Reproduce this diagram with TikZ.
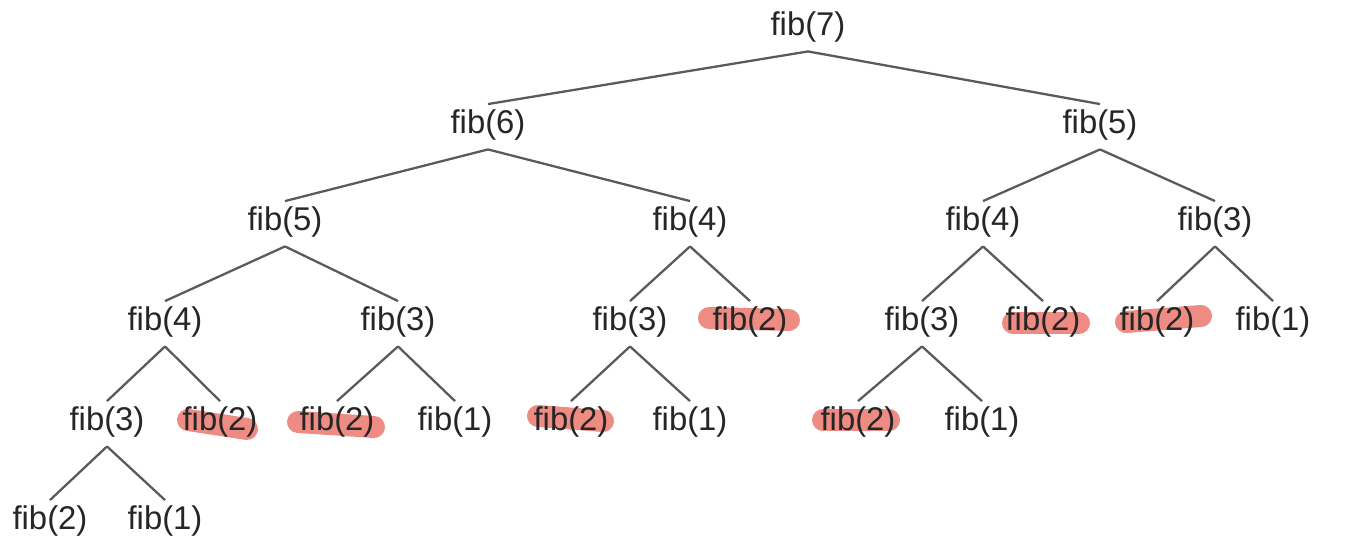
\documentclass[tikz,border=0pt]{standalone}
\usepackage{fontspec}
\setmainfont{Liberation Sans}
\usetikzlibrary{backgrounds}
\definecolor{marker}{RGB}{238,140,132}
\definecolor{edgegray}{RGB}{90,90,90}
\begin{document}
\begin{tikzpicture}[x=0.02cm,y=-0.02cm,
  every node/.style={font=\fontsize{18.7}{22}\selectfont,text=black!85,inner xsep=0pt,inner ysep=3pt},
  call/.style={line width=1.3pt,edgegray},
  hl/.style={line width=0.44cm,marker,line cap=round}]
\useasboundingbox (0,0) rectangle (1354,553);
% call tree of fib(7)
\node (f7) at (808,27) {fib(7)};
\node (f6) at (488,125) {fib(6)};
\node (f5r) at (1100,125) {fib(5)};
\node (f5) at (285,222) {fib(5)};
\node (f4m) at (690,222) {fib(4)};
\node (f4r) at (983,222) {fib(4)};
\node (f3r) at (1215,222) {fib(3)};
\node (f4) at (165,322) {fib(4)};
\node (f3a) at (398,322) {fib(3)};
\node (f3b) at (630,322) {fib(3)};
\node (f2a) at (750,322) {fib(2)};
\node (f3c) at (922,322) {fib(3)};
\node (f2b) at (1043,322) {fib(2)};
\node (f2c) at (1157,322) {fib(2)};
\node (f1a) at (1273,322) {fib(1)};
\node (f3) at (107,422) {fib(3)};
\node (f2d) at (220,422) {fib(2)};
\node (f2e) at (337,422) {fib(2)};
\node (f1b) at (455,422) {fib(1)};
\node (f2f) at (571,422) {fib(2)};
\node (f1c) at (690,422) {fib(1)};
\node (f2g) at (858,422) {fib(2)};
\node (f1d) at (982,422) {fib(1)};
\node (f2) at (50,521) {fib(2)};
\node (f1) at (165,521) {fib(1)};
\foreach \u/\v in {f7/f6,f7/f5r,f6/f5,f6/f4m,f5r/f4r,f5r/f3r,f5/f4,f5/f3a,f4m/f3b,f4m/f2a,
  f4r/f3c,f4r/f2b,f3r/f2c,f3r/f1a,f4/f3,f4/f2d,f3a/f2e,f3a/f1b,f3b/f2f,f3b/f1c,f3c/f2g,f3c/f1d,f3/f2,f3/f1}
  \draw[call] ([yshift=-2pt]\u.south) -- (\v.north);
% repeated fib(2) calls
\begin{pgfonlayer}{background}
\draw[hl] ([shift={(-41,-4)}]f2a.center) -- ([shift={(39,-2)}]f2a.center);
\draw[hl] ([shift={(-30,1)}]f2b.center) -- ([shift={(36,1)}]f2b.center);
\draw[hl] ([shift={(-31,0)}]f2c.center) -- ([shift={(44,-6)}]f2c.center);
\draw[hl] ([shift={(-32,-2)}]f2d.center) -- ([shift={(27,7)}]f2d.center);
\draw[hl] ([shift={(-39,0)}]f2e.center) -- ([shift={(37,5)}]f2e.center);
\draw[hl] ([shift={(-33,-6)}]f2f.center) -- ([shift={(32,-1)}]f2f.center);
\draw[hl] ([shift={(-35,-2)}]f2g.center) -- ([shift={(31,-2)}]f2g.center);
\end{pgfonlayer}
\end{tikzpicture}
\end{document}
